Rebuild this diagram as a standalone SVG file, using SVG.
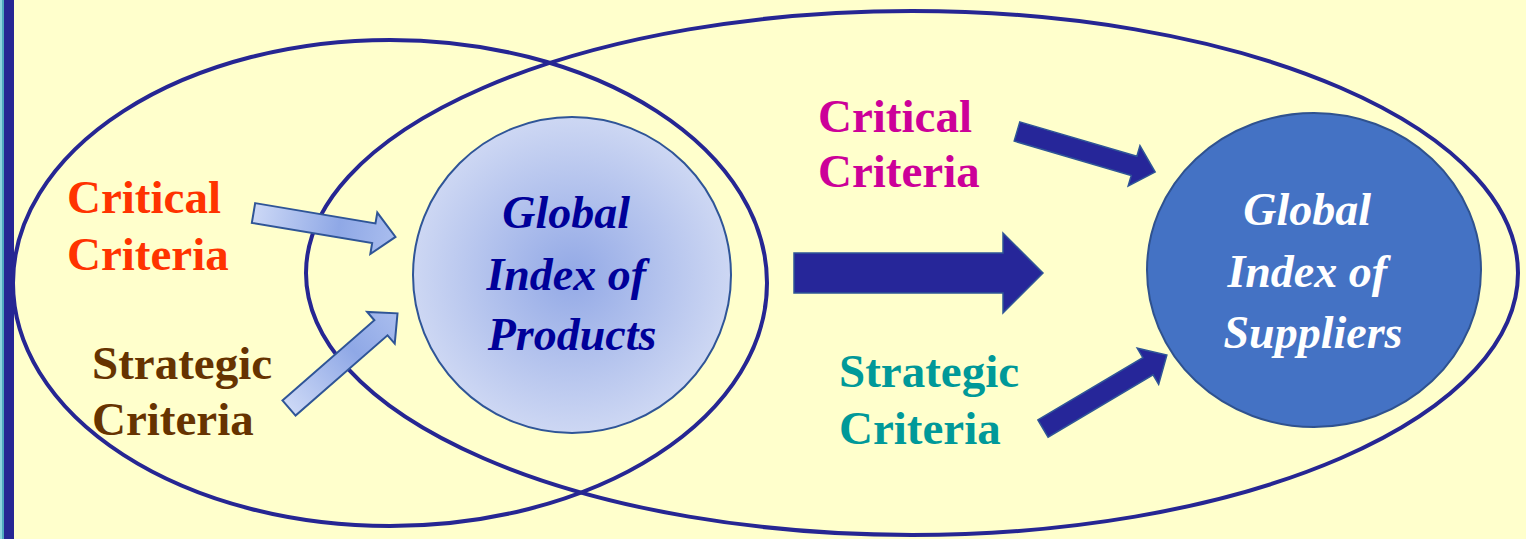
<svg xmlns="http://www.w3.org/2000/svg" width="1526" height="539" viewBox="0 0 1526 539">
  <defs>
    <style>
      .ring { fill: none; stroke: #262693; stroke-width: 4; }
      .arrow-light { fill: url(#lightArrow); stroke: #2F5597; stroke-width: 2; }
      .arrow-dark { fill: #262699; stroke: #2F5597; stroke-width: 1.5; }
      text { font-family: 'Liberation Serif', 'Times New Roman', Times, 'DejaVu Serif', serif; font-weight: bold; }
      .label { font-size: 47px; }
      .index { font-size: 46px; font-style: italic; text-anchor: middle; }
    </style>
    <radialGradient id="productsFill" cx="0.5" cy="0.5" r="0.5">
      <stop offset="0" stop-color="#93A9E6"/>
      <stop offset="1" stop-color="#CDD7F3"/>
    </radialGradient>
    <linearGradient id="lightArrow" x1="0" y1="0" x2="144" y2="0" gradientUnits="userSpaceOnUse">
      <stop offset="0" stop-color="#CCD8F6"/>
      <stop offset="0.6" stop-color="#8FA8E6"/>
      <stop offset="1" stop-color="#A9BDEE"/>
    </linearGradient>
    <!-- straight arrow, tail at origin pointing along +x -->
    <path id="shortArrow" d="M0,-10 L122,-10 L122,-21 L144,0 L122,21 L122,10 L0,10 Z"/>
  </defs>

  <!-- page background and left border -->
  <rect x="0" y="0" width="1526" height="539" fill="#FFFFCC"/>
  <rect x="0" y="0" width="2" height="539" fill="#8FD3DF"/>
  <rect x="2" y="0" width="2" height="539" fill="#4FA9BE"/>
  <rect x="4" y="0" width="10" height="539" fill="#262693"/>

  <!-- overlapping scope ellipses -->
  <g id="scopes">
    <ellipse class="ring" cx="390" cy="283" rx="377" ry="243"/>
    <ellipse class="ring" cx="912" cy="273" rx="606" ry="262"/>
  </g>

  <g id="products">
    <ellipse cx="572" cy="275" rx="159" ry="158" fill="url(#productsFill)" stroke="#2F5597" stroke-width="2"/>
    <text class="index" fill="#000099">
      <tspan x="572" y="228">Global</tspan>
      <tspan x="572" y="290">Index of</tspan>
      <tspan x="572" y="350">Products</tspan>
    </text>
  </g>

  <g id="suppliers">
    <ellipse cx="1314" cy="270" rx="167" ry="157" fill="#4472C4" stroke="#2F528F" stroke-width="2"/>
    <text class="index" fill="#FFFFFF">
      <tspan x="1313" y="225">Global</tspan>
      <tspan x="1313" y="287">Index of</tspan>
      <tspan x="1313" y="348">Suppliers</tspan>
    </text>
  </g>

  <g id="product-critical">
    <text class="label" fill="#FF3300"><tspan x="67" y="213">Critical</tspan><tspan x="67" y="270">Criteria</tspan></text>
  </g>
  <g id="product-strategic">
    <text class="label" fill="#663300"><tspan x="92" y="379">Strategic</tspan><tspan x="92" y="435">Criteria</tspan></text>
  </g>
  <g id="supplier-critical">
    <text class="label" fill="#CC0099"><tspan x="818" y="132">Critical</tspan><tspan x="818" y="187">Criteria</tspan></text>
  </g>
  <g id="supplier-strategic">
    <text class="label" fill="#009999"><tspan x="839" y="387">Strategic</tspan><tspan x="839" y="444">Criteria</tspan></text>
  </g>

  <g id="connectors">
    <use href="#shortArrow" class="arrow-light" transform="translate(253.5,213) rotate(9.56)"/>
    <use href="#shortArrow" class="arrow-light" transform="translate(289,408) rotate(-41.1)"/>
    <path class="arrow-dark" d="M794,253 L1003,253 L1003,233 L1043,273 L1003,313 L1003,293 L794,293 Z"/>
    <use href="#shortArrow" class="arrow-dark" transform="translate(1017,131.5) rotate(16.36)"/>
    <use href="#shortArrow" class="arrow-dark" transform="translate(1043,428.5) rotate(-30.66)"/>
  </g>
</svg>
